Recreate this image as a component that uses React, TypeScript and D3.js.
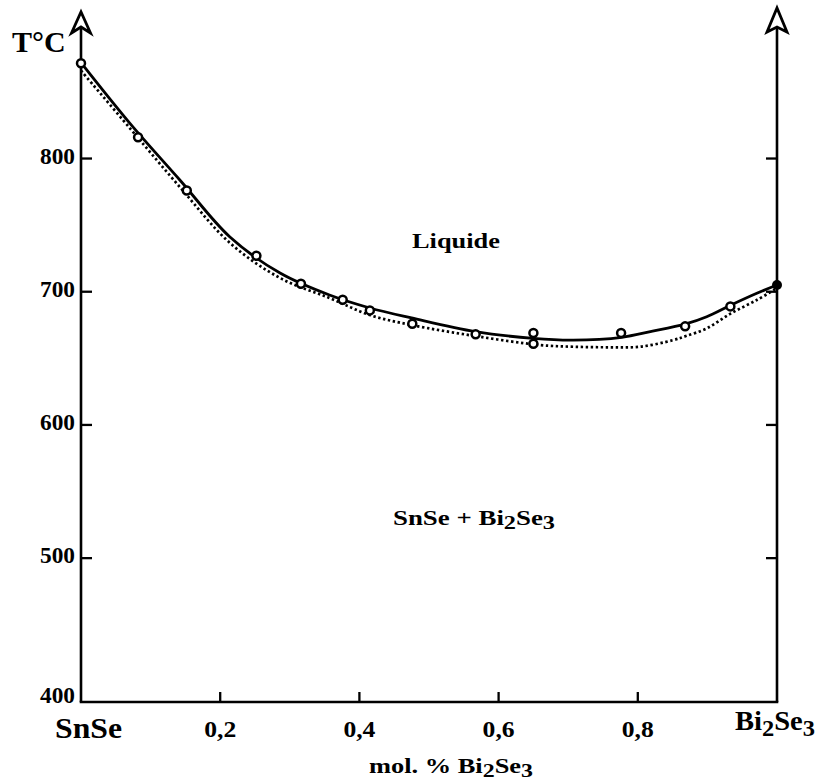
import React from "react";
import * as d3 from "d3";

// Measured points (composition, temperature)
const pointX = [0, 0.082, 0.152, 0.252, 0.316, 0.376, 0.415, 0.476, 0.567, 0.65, 0.65, 0.776, 0.868, 0.933];
const pointT = [871.5, 816, 776, 727, 706, 694, 686, 676, 668, 669, 661, 669, 674, 689];
const filledX = [1.0];
const filledT = [705];

// Experimental liquidus (solid curve)
const solidX = [0, 0.07, 0.142, 0.214, 0.286, 0.357, 0.415, 0.475, 0.567, 0.65, 0.707, 0.777, 0.818, 0.869, 0.899, 0.934, 0.971, 1.0];
const solidT = [872, 826.6, 783.9, 741.1, 714, 697.5, 687.8, 680.3, 670, 665, 663.7, 665.8, 670, 675.8, 681.2, 690, 698.8, 705];

// Calculated liquidus (dotted curve)
const dotX = [0, 0.07, 0.142, 0.214, 0.286, 0.357, 0.415, 0.475, 0.567, 0.659, 0.707, 0.756, 0.803, 0.851, 0.869, 0.899, 0.934, 0.971, 1.0];
const dotT = [866, 822.9, 778.6, 736.6, 710.3, 695.3, 682.5, 675, 666.7, 660, 658.7, 658.3, 658.7, 663.7, 666.7, 672.5, 683.8, 693.8, 702.6];

const xTicks = [0.2, 0.4, 0.6, 0.8];
const xTickLabels = ["0,2", "0,4", "0,6", "0,8"];
const yTickValues = [500, 600, 700, 800];
const yLabelValues = [400, 500, 600, 700, 800];

const W = 820;
const H = 784;
const FONT = "'Liberation Serif', 'Times New Roman', serif";

export default function App() {
  const x = d3.scaleLinear().domain([0, 1]).range([81, 777]);
  const y = d3.scaleLinear().domain([392, 910]).range([702, 12]);

  const line = d3
    .line<[number, number]>()
    .x((d) => x(d[0]))
    .y((d) => y(d[1]))
    .curve(d3.curveCatmullRom.alpha(0.5));

  const solidPath = line(solidX.map((v, i) => [v, solidT[i]]) as [number, number][]) || "";
  const dotPath = line(dotX.map((v, i) => [v, dotT[i]]) as [number, number][]) || "";

  const x0 = x(0);
  const x1 = x(1);
  const yb = 702;
  const yLabelY = (v: number) => (v === yLabelValues[0] ? yb + 1 : y(v) + 5);

  return (
    <svg
      width={W}
      height={H}
      viewBox={`0 0 ${W} ${H}`}
      style={{ position: "absolute", left: 0, top: 0, background: "#fff" }}
      fontFamily={FONT}
      fontWeight="bold"
    >
      <rect width={W} height={H} fill="#fff" />
      {/* axes */}
      <line x1={x0} y1={yb} x2={x0} y2={27} stroke="#000" strokeWidth={2.6} />
      <line x1={x1} y1={yb} x2={x1} y2={27} stroke="#000" strokeWidth={2.6} />
      <line x1={x0 - 1.3} y1={yb} x2={x1 + 1.3} y2={yb} stroke="#000" strokeWidth={2.6} />
      {/* arrowheads */}
      <path
        d={`M${x0 - 9.5},33 L${x0},12 L${x0 + 9.5},33 L${x0},27 Z`}
        fill="#fff"
        stroke="#000"
        strokeWidth={2.8}
        strokeLinejoin="miter"
      />
      <path
        d={`M${x1 - 10},32 L${x1},8 L${x1 + 10},32 L${x1},27 Z`}
        fill="#fff"
        stroke="#000"
        strokeWidth={2.8}
        strokeLinejoin="miter"
      />
      {/* y ticks */}
      {yTickValues.map((v) => (
        <g key={"yt" + v}>
          <line x1={x0} x2={x0 + 11} y1={y(v)} y2={y(v)} stroke="#000" strokeWidth={2.3} />
          <line x1={x1} x2={x1 - 11} y1={y(v)} y2={y(v)} stroke="#000" strokeWidth={2.3} />
        </g>
      ))}
      {yLabelValues.map((v) => (
        <text
          key={"yl" + v}
          x={x0 - 6}
          y={yLabelY(v)}
          textAnchor="end"
          fontSize={23}
          textLength={35}
          lengthAdjust="spacingAndGlyphs"
        >
          {v}
        </text>
      ))}
      {/* x ticks */}
      {xTicks.map((v, i) => (
        <g key={"xt" + v}>
          <line x1={x(v)} x2={x(v)} y1={yb} y2={yb - 10} stroke="#000" strokeWidth={2.3} />
          <text
            x={x(v) - 16}
            y={737}
            fontSize={23}
            textLength={32}
            lengthAdjust="spacingAndGlyphs"
          >
            {xTickLabels[i]}
          </text>
        </g>
      ))}
      <text x={55} y={738} fontSize={30} textLength={67} lengthAdjust="spacingAndGlyphs">
        SnSe
      </text>
      <text x={735} y={730} fontSize={28} textLength={80} lengthAdjust="spacingAndGlyphs">
        Bi
        <tspan fontSize={24} dy={6}>2</tspan>
        <tspan dy={-6}>Se</tspan>
        <tspan fontSize={24} dy={6}>3</tspan>
      </text>
      <text x={369} y={773} fontSize={21} textLength={164} lengthAdjust="spacingAndGlyphs">
        mol. % Bi
        <tspan fontSize={19} dy={4}>2</tspan>
        <tspan dy={-4}>Se</tspan>
        <tspan fontSize={19} dy={4}>3</tspan>
      </text>
      <text x={12} y={52} fontSize={30}>
        T°C
      </text>
      <text x={412} y={248} fontSize={21} textLength={88} lengthAdjust="spacingAndGlyphs">
        Liquide
      </text>
      <text x={393} y={525} fontSize={21} textLength={162} lengthAdjust="spacingAndGlyphs">
        SnSe + Bi
        <tspan fontSize={19} dy={4}>2</tspan>
        <tspan dy={-4}>Se</tspan>
        <tspan fontSize={19} dy={4}>3</tspan>
      </text>
      {/* curves */}
      <path d={dotPath} fill="none" stroke="#000" strokeWidth={2.7} strokeDasharray="2.4 2.6" />
      <path d={solidPath} fill="none" stroke="#000" strokeWidth={2.8} />
      {/* points */}
      {pointX.map((v, i) => (
        <circle key={"p" + i} cx={x(v)} cy={y(pointT[i])} r={4} fill="#fff" stroke="#000" strokeWidth={2.5} />
      ))}
      {filledX.map((v, i) => (
        <circle key={"f" + i} cx={x(v)} cy={y(filledT[i])} r={5} fill="#000" />
      ))}
    </svg>
  );
}
